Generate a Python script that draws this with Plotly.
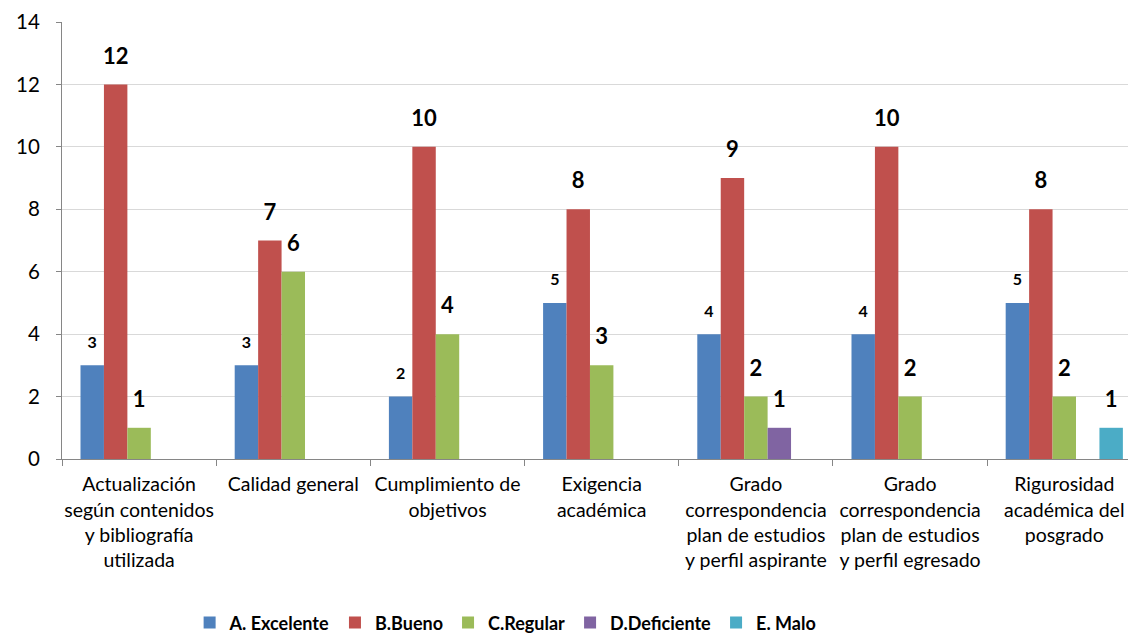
import plotly.graph_objects as go

categories = [
    "Actualización<br>según contenidos<br>y bibliografía<br>utilizada",
    "Calidad general",
    "Cumplimiento de<br>objetivos",
    "Exigencia<br>académica",
    "Grado<br>correspondencia<br>plan de estudios<br>y perfil aspirante",
    "Grado<br>correspondencia<br>plan de estudios<br>y perfil egresado",
    "Rigurosidad<br>académica del<br>posgrado",
]
series_names = ["A. Excelente", "B.Bueno", "C.Regular", "D.Deficiente", "E. Malo"]
excelente = [3, 3, 2, 5, 4, 4, 5]
bueno = [12, 7, 10, 8, 9, 10, 8]
regular = [1, 6, 4, 3, 2, 2, 2]
deficiente = [None, None, None, None, 1, None, None]
malo = [None, None, None, None, None, None, 1]
series_values = [excelente, bueno, regular, deficiente, malo]
y_ticks = [0, 2, 4, 6, 8, 10, 12, 14]

colors = ["#4F81BD", "#C0504D", "#9BBB59", "#8064A2", "#4BACC6"]
label_sizes = [16, 22, 22, 22, 22]
label_marker = [20, 23, 23, 23, 23]
FONT = "Lato"
GAP = 0.24

fig = go.Figure()
for name, vals, col in zip(series_names, series_values, colors):
    fig.add_trace(go.Bar(
        x=categories, y=vals, name=name, marker=dict(color=col, line=dict(width=0)),
        hoverinfo="skip",
    ))

for name, vals, fs, ms in zip(series_names, series_values, label_sizes, label_marker):
    fig.add_trace(go.Scatter(
        x=categories, y=vals, mode="markers+text",
        text=["" if v is None else str(v) for v in vals],
        textposition="top center",
        textfont=dict(family=FONT, size=fs, color="#000000", weight="bold"),
        marker=dict(size=ms, color="rgba(0,0,0,0)"),
        showlegend=False, hoverinfo="skip", cliponaxis=False,
    ))

fig.update_layout(
    width=1136, height=636,
    margin=dict(l=54, r=0, t=14, b=185, autoexpand=False),
    paper_bgcolor="white", plot_bgcolor="white",
    barmode="group", bargap=GAP, bargroupgap=0,
    scattermode="group", scattergap=GAP,
    font=dict(family=FONT, color="#000000"),
    showlegend=True,
    legend=dict(
        orientation="h", x=0.41, xanchor="center", y=-0.375, yanchor="middle",
        font=dict(family=FONT, size=18, color="#000000", weight="bold"),
        traceorder="normal",
    ),
)
fig.update_xaxes(
    range=[-0.5, 6.517], showline=True, linecolor="#868686", linewidth=1,
    ticks="outside", tickson="boundaries", ticklen=6, tickcolor="#868686",
    tickfont=dict(family=FONT, size=19.5, color="#000000"), tickangle=0,
    ticklabelstandoff=8, ticklabeloverflow="allow",
    showgrid=False, fixedrange=True, automargin=False,
)
fig.update_yaxes(
    range=[0, 14], tickvals=y_ticks, showline=True, linecolor="#868686", linewidth=1,
    ticks="outside", ticklen=5, tickcolor="#868686",
    showgrid=True, gridcolor="#D9D9D9", gridwidth=1, zeroline=False,
    tickfont=dict(family=FONT, size=20.5, color="#000000"),
    ticklabelstandoff=12, ticklabeloverflow="allow", automargin=False,
)

fig.write_html("out.html")
